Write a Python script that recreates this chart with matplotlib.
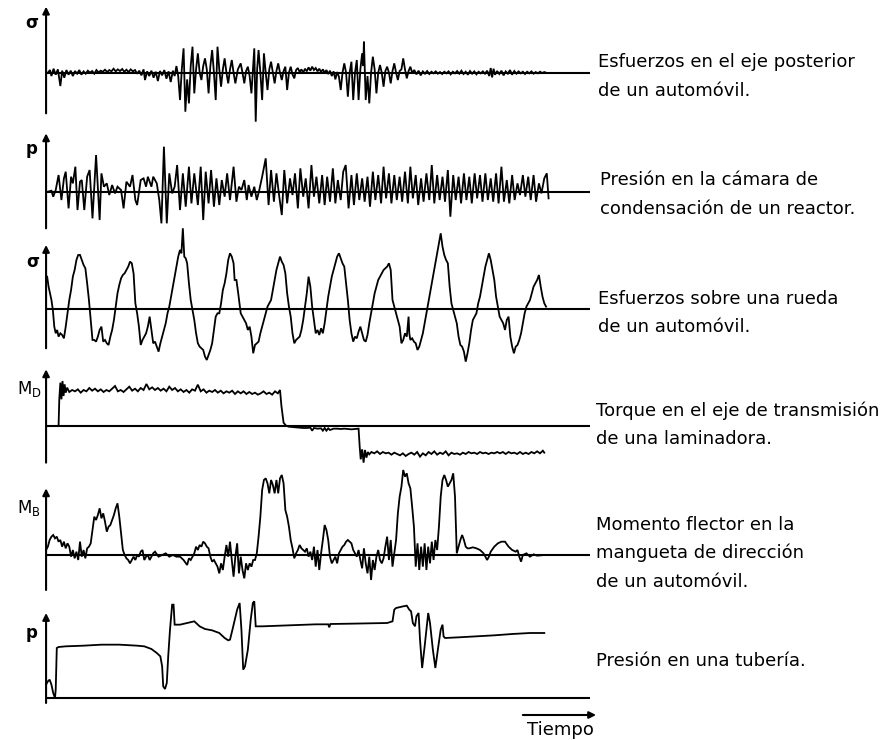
import matplotlib.pyplot as plt

plt.rcParams['font.family'] = 'DejaVu Sans'

W, H = 885, 740
T_AXIS, T_END = 45, 1568   # time of the vertical axis and of the end of each zero line

# (time, amplitude) samples of each record, amplitude measured from its zero line
eje_posterior = [
    (50, 0), (56, 8), (60, -10), (66, 12), (72, -6), (78, 10), (85, -40), (90, 6), (96, -15), (102, 8),
    (108, -6), (114, 6), (120, -10), (126, 5), (132, -3), (138, 8), (144, -6), (150, 4), (156, -3), (162, 6),
    (168, 0), (174, 5), (180, -3), (186, 8), (192, 1), (198, 6), (204, 3), (210, 9), (216, 2), (222, 8),
    (228, 4), (234, 12), (240, 4), (246, 10), (252, 5), (258, 11), (264, 3), (270, 9), (276, 2), (282, 10),
    (288, 4), (294, 8), (300, -3), (306, 6), (312, -8), (318, 10), (322, -22), (328, 4), (334, -10), (340, 6),
    (346, -15), (352, 3), (358, -25), (364, 5), (370, -8), (376, 8), (382, -18), (388, 4), (394, -28), (400, 6),
    (405, -10), (410, 20), (415, -10), (420, -82), (425, 10), (430, 73), (435, -117), (440, -20), (445, -92),
    (450, 20), (455, 78), (460, -62), (465, 10), (470, 58), (475, 0), (480, -22), (485, 20), (490, 43),
    (495, 10), (500, -62), (505, 20), (510, 68), (515, 0), (520, -82), (525, 78), (530, 10), (535, -42),
    (540, 10), (545, 43), (550, 0), (555, -32), (560, 10), (565, 38), (570, 0), (575, -32), (582, 10),
    (590, 28), (595, 0), (600, -32), (605, 5), (610, 18), (615, -10), (620, -62), (625, 20), (628, 73),
    (632, -147), (636, 10), (640, 68), (645, 0), (650, -82), (655, 58), (660, 0), (665, -52), (670, 10),
    (675, 33), (680, 0), (685, -32), (690, 5), (695, 28), (700, 0), (705, -22), (710, 5), (715, 18),
    (720, -52), (725, 0), (730, 18), (735, -5), (740, -17), (745, 8), (750, 14), (755, 2), (760, 10),
    (765, 0), (770, 12), (775, 4), (780, 16), (785, 6), (790, 18), (795, 8), (800, 14), (805, 4), (810, 12),
    (815, 2), (820, 10), (825, 0), (830, 8), (835, -4), (840, 6), (845, -10), (850, 4), (855, -20), (860, 2),
    (865, -12), (870, -52), (875, 0), (880, 28), (885, 0), (890, -72), (895, 0), (900, 33), (905, -82),
    (910, 0), (915, 38), (920, -82), (925, 10), (930, 58), (933, 20), (935, 93), (940, -82), (945, -10),
    (950, -92), (955, 0), (960, 48), (965, 10), (970, -62), (975, 0), (980, 23), (985, 0), (990, -42),
    (995, 5), (1000, 18), (1005, 0), (1010, -32), (1015, 5), (1020, 28), (1025, 0), (1030, -22), (1035, 5),
    (1040, 10), (1045, 43), (1050, 10), (1055, -17), (1060, 5), (1065, 18), (1070, 0), (1076, 8), (1082, -5),
    (1088, 6), (1094, -8), (1100, 4), (1106, -3), (1112, 5), (1118, -4), (1124, 3), (1130, -2), (1136, 4),
    (1142, -3), (1148, 2), (1154, -4), (1160, 3), (1166, -2), (1172, 4), (1178, -5), (1184, 3), (1190, -2),
    (1196, 5), (1202, -3), (1208, 6), (1214, -4), (1220, 3), (1226, -6), (1232, 5), (1238, -3), (1244, 4),
    (1250, -5), (1256, 3), (1262, -2), (1268, 4), (1274, -3), (1280, 6), (1286, -10), (1290, 14), (1294, -14),
    (1298, 12), (1302, -6), (1308, 5), (1314, -4), (1320, 6), (1326, -8), (1332, 4), (1338, -3), (1344, 8),
    (1350, -6), (1356, 5), (1362, -3), (1368, 4), (1374, -2), (1380, 3), (1386, -4), (1392, 3), (1398, -2),
    (1404, 4), (1410, -3), (1416, 2), (1422, -2), (1428, 3), (1434, -1), (1440, 2), (1445, 0),
]

camara_reactor = [
    (50, 0), (60, 3), (65, -15), (72, 5), (80, 50), (88, -25), (95, 40), (100, 60), (108, -50), (115, 45),
    (120, 25), (127, 75), (133, -55), (140, 30), (145, 35), (152, -55), (160, 45), (167, 65), (175, -80),
    (185, 110), (195, -85), (200, 55), (207, 15), (215, 25), (222, -10), (230, 20), (238, -5), (245, 15),
    (255, 5), (262, -50), (270, 30), (280, 15), (287, 50), (295, -25), (300, -40), (310, 35), (318, 40),
    (325, 15), (330, 45), (340, 15), (345, 45), (355, 25), (362, -25), (368, -95), (375, 135), (383, -95),
    (390, 55), (398, -5), (405, 15), (412, 80), (420, -55), (428, 55), (436, -45), (445, 75), (452, -35),
    (460, 55), (470, -40), (478, 75), (485, -85), (492, 60), (500, -35), (507, 65), (515, -45), (522, 40),
    (530, -40), (537, 35), (545, -15), (552, 55), (560, -25), (570, 75), (578, -30), (585, 15), (592, 5),
    (600, 35), (607, -25), (612, 20), (620, -15), (628, 15), (635, -25), (642, 5), (650, 45), (660, 100),
    (668, -40), (675, 65), (683, -30), (690, 55), (698, -15), (705, -70), (712, 65), (720, -35), (728, 40),
    (735, -10), (742, 55), (750, -50), (757, 70), (765, -15), (772, 40), (780, -50), (788, 80), (795, -15),
    (802, 45), (810, -35), (818, 50), (825, -40), (832, 45), (840, -30), (848, 70), (855, -35), (862, 35),
    (870, -25), (877, 60), (884, 80), (892, -50), (900, 50), (907, -40), (915, 55), (922, -25), (930, 40),
    (937, -30), (945, 45), (952, -45), (960, 60), (967, -25), (975, 50), (983, -35), (990, 75), (997, -20),
    (1005, 55), (1012, -35), (1020, 50), (1027, -25), (1035, 45), (1042, -30), (1050, 60), (1058, -35),
    (1065, 75), (1072, -20), (1080, 50), (1087, -40), (1095, 40), (1102, -30), (1110, 55), (1118, -25),
    (1125, 80), (1132, -35), (1140, 50), (1147, -25), (1155, 45), (1162, -30), (1170, 65), (1177, -75),
    (1185, 50), (1192, -25), (1200, 45), (1207, -35), (1215, 55), (1222, -25), (1230, 45), (1237, -35),
    (1245, 55), (1252, -20), (1260, 50), (1267, -30), (1275, 55), (1282, -25), (1290, 40), (1297, -30),
    (1305, 55), (1312, -35), (1320, 75), (1327, -30), (1335, 35), (1342, -35), (1350, 50), (1357, -25),
    (1365, 25), (1372, -10), (1380, 50), (1387, -15), (1395, 45), (1402, -25), (1410, 50), (1417, -30),
    (1425, 25), (1432, -5), (1440, 40), (1447, 55), (1452, -20),
]

rueda = [
    (45, 98), (48, 98), (52, 68), (56, 48), (60, 28), (64, -2), (68, -52), (72, -72), (76, -62), (80, -82),
    (85, -72), (90, -77), (95, -87), (100, -52), (105, -12), (110, 28), (115, 58), (120, 98), (125, 118),
    (130, 148), (135, 163), (140, 163), (145, 148), (150, 133), (155, 123), (160, 78), (165, 28), (170, -32),
    (175, -92), (180, -92), (185, -97), (190, -82), (195, -62), (200, -52), (205, -97), (210, -92), (215, -102),
    (220, -107), (225, -82), (230, -62), (235, -32), (240, 8), (245, 48), (250, 73), (255, 93), (260, 103),
    (265, 108), (270, 118), (275, 128), (280, 143), (285, 138), (290, 108), (295, 18), (300, -12), (305, -52),
    (310, -107), (315, -92), (320, -82), (325, -72), (330, -52), (335, -22), (340, -62), (345, -102),
    (350, -97), (355, -112), (360, -127), (365, -102), (370, -82), (375, -62), (380, -42), (385, -12), (390, 8),
    (395, 38), (400, 68), (405, 98), (410, 128), (415, 158), (420, 178), (424, 168), (428, 243), (432, 158),
    (436, 153), (440, 138), (445, 78), (450, 28), (455, -2), (460, -32), (465, -72), (470, -102), (475, -112),
    (480, -117), (485, -122), (490, -142), (495, -152), (500, -137), (505, -122), (510, -102), (515, -62),
    (520, -22), (525, -12), (530, -12), (535, 18), (540, 58), (545, 78), (550, 108), (555, 148), (560, 168),
    (565, 158), (570, 138), (573, 88), (578, 88), (583, 48), (590, -12), (595, -22), (600, -32), (605, -42),
    (610, -62), (615, -52), (620, -82), (625, -132), (630, -107), (635, -102), (640, -97), (645, -72),
    (650, -52), (655, -32), (660, -12), (665, 8), (670, 18), (675, 28), (680, 58), (685, 88), (690, 118),
    (695, 138), (700, 158), (705, 143), (710, 133), (715, 108), (720, 48), (725, 8), (730, -22), (735, -72),
    (740, -102), (745, -92), (750, -87), (755, -82), (760, -62), (765, -32), (770, 8), (775, 48), (780, 98),
    (785, 68), (790, 8), (795, -32), (800, -72), (805, -62), (810, -77), (815, -57), (820, -72), (825, -42),
    (830, -2), (835, 38), (840, 68), (845, 98), (850, 118), (855, 138), (860, 158), (865, 168), (870, 153),
    (875, 138), (880, 128), (885, 78), (890, 28), (895, -32), (900, -72), (905, -97), (910, -82), (915, -87),
    (920, -67), (925, -52), (930, -72), (935, -92), (940, -97), (945, -77), (950, -42), (955, -12), (960, 18),
    (965, 48), (970, 68), (975, 88), (980, 98), (985, 108), (990, 118), (1000, 128), (1005, 138), (1010, 118),
    (1015, 28), (1020, 8), (1025, -12), (1030, -32), (1035, -52), (1040, -102), (1045, -92), (1050, -72),
    (1055, -82), (1060, -22), (1062, -72), (1065, -92), (1070, -87), (1075, -97), (1080, -102), (1085, -122),
    (1090, -112), (1095, -92), (1100, -72), (1105, -42), (1110, -12), (1115, 18), (1120, 48), (1125, 78),
    (1130, 108), (1135, 138), (1140, 168), (1145, 198), (1150, 228), (1155, 188), (1160, 163), (1165, 148),
    (1170, 138), (1175, 68), (1180, 18), (1185, -2), (1190, -22), (1195, -42), (1200, -82), (1205, -107),
    (1210, -112), (1215, -127), (1220, -157), (1225, -132), (1230, -102), (1235, -62), (1240, -32),
    (1245, -22), (1250, -12), (1255, 18), (1260, 38), (1265, 68), (1270, 98), (1275, 128), (1280, 148),
    (1285, 168), (1290, 148), (1295, 118), (1300, 88), (1305, 38), (1310, 8), (1315, -22), (1320, -32),
    (1325, -42), (1330, -62), (1335, -32), (1340, -22), (1345, -82), (1350, -112), (1355, -132), (1360, -112),
    (1365, -107), (1370, -92), (1375, -72), (1380, -42), (1385, -12), (1390, 8), (1395, 18), (1400, 28),
    (1405, 48), (1410, 68), (1415, 78), (1420, 88), (1425, 103), (1430, 68), (1435, 38), (1440, 18), (1445, 8),
]

laminadora = [
    (80, 0), (82, 80), (85, 130), (88, 80), (91, 135), (94, 90), (97, 125), (100, 100), (104, 115), (110, 102),
    (118, 108), (126, 104), (134, 110), (142, 100), (150, 108), (158, 104), (166, 114), (174, 106), (182, 112),
    (190, 104), (198, 110), (206, 102), (214, 108), (222, 104), (230, 112), (238, 120), (246, 104), (254, 108),
    (262, 102), (270, 110), (278, 118), (286, 106), (294, 112), (302, 104), (310, 114), (318, 108), (326, 126),
    (334, 110), (342, 116), (350, 108), (358, 114), (366, 106), (374, 112), (382, 104), (390, 118), (398, 108),
    (406, 114), (414, 104), (422, 110), (430, 102), (438, 108), (446, 100), (454, 110), (462, 106), (470, 124),
    (478, 104), (486, 110), (494, 100), (502, 106), (510, 102), (518, 108), (526, 100), (534, 106), (542, 98),
    (550, 104), (558, 100), (566, 106), (574, 96), (582, 104), (590, 98), (598, 104), (606, 96), (614, 102),
    (622, 96), (630, 100), (638, 94), (646, 98), (654, 104), (662, 96), (670, 100), (678, 94), (686, 104),
    (694, 98), (700, 108), (704, 60), (710, 10), (716, 2), (724, -2), (735, -3), (745, -4), (755, -5),
    (765, -6), (775, -6), (785, -5), (790, -14), (795, -6), (805, -8), (815, -7), (820, -14), (825, -6),
    (830, -14), (835, -7), (840, -12), (850, -8), (860, -8), (870, -9), (880, -8), (890, -9), (900, -10),
    (910, -9), (920, -8), (923, -60), (926, -100), (930, -70), (934, -110), (938, -72), (942, -95), (946, -78),
    (950, -85), (956, -78), (964, -82), (972, -76), (980, -84), (988, -78), (996, -82), (1004, -80),
    (1012, -86), (1020, -80), (1028, -84), (1036, -88), (1044, -82), (1052, -90), (1060, -84), (1068, -80),
    (1076, -86), (1084, -78), (1092, -92), (1100, -82), (1108, -88), (1116, -78), (1124, -84), (1132, -76),
    (1140, -86), (1148, -80), (1156, -84), (1164, -76), (1172, -88), (1180, -80), (1188, -84), (1196, -82),
    (1204, -86), (1212, -80), (1220, -84), (1228, -78), (1236, -82), (1244, -80), (1252, -84), (1260, -78),
    (1268, -82), (1276, -80), (1284, -84), (1292, -80), (1300, -82), (1308, -78), (1316, -82), (1324, -78),
    (1332, -84), (1340, -78), (1348, -82), (1356, -80), (1364, -84), (1372, -78), (1380, -84), (1388, -80),
    (1396, -84), (1404, -78), (1412, -82), (1420, -76), (1428, -82), (1436, -74), (1440, -80),
]

mangueta = [
    (45, 15), (50, 25), (55, 45), (60, 55), (65, 60), (70, 50), (75, 55), (80, 40), (85, 45), (90, 25),
    (95, 40), (100, 20), (105, 35), (110, 25), (115, -5), (120, 15), (125, -10), (130, 10), (135, -15),
    (140, 40), (145, -5), (150, 15), (155, -10), (160, 20), (165, 25), (170, 35), (175, 75), (180, 115),
    (185, 105), (190, 120), (195, 140), (200, 110), (205, 125), (210, 100), (215, 70), (220, 85), (225, 90),
    (230, 105), (235, 120), (240, 140), (245, 155), (250, 115), (255, 65), (260, 15), (265, 0), (270, -10),
    (275, -15), (280, -25), (285, -15), (290, -5), (295, -15), (300, 0), (305, -5), (310, 10), (315, 15),
    (320, -15), (325, -5), (330, 0), (335, -15), (340, -5), (345, 5), (350, 10), (360, -5), (370, 0),
    (380, 5), (390, -5), (400, 0), (410, -5), (420, -5), (430, -15), (440, -30), (445, -10), (450, -15),
    (455, -5), (460, 5), (465, 25), (470, 15), (475, 30), (480, 25), (485, 40), (490, 35), (495, 25),
    (500, 20), (505, -5), (510, -20), (515, -15), (520, -25), (525, -35), (530, -55), (535, -25), (540, -45),
    (545, -5), (550, 30), (555, -5), (560, 40), (565, -15), (570, -65), (575, -5), (580, 35), (585, -55),
    (590, -5), (595, -45), (600, -70), (605, -25), (610, -45), (615, -25), (620, -35), (625, -15), (630, -15),
    (635, 5), (640, 55), (645, 115), (650, 195), (655, 225), (660, 230), (665, 215), (670, 185), (675, 225),
    (680, 210), (685, 185), (690, 225), (695, 185), (700, 230), (705, 240), (710, 215), (715, 135), (720, 115),
    (725, 85), (730, 45), (735, 20), (740, -10), (745, 5), (750, 15), (755, 30), (760, 20), (765, 15),
    (770, 10), (775, 20), (780, -5), (785, 10), (790, -15), (795, 25), (800, -35), (805, 15), (810, -45),
    (815, 5), (820, 45), (825, 90), (830, 75), (835, 45), (840, -5), (845, -25), (850, -15), (855, -5),
    (860, -25), (865, 5), (870, 15), (875, 25), (880, 30), (885, 40), (890, 45), (895, 40), (900, 35),
    (905, 15), (910, 5), (915, -5), (920, 15), (925, -15), (930, -40), (935, 20), (940, -25), (945, -55),
    (950, -5), (955, -75), (960, -15), (965, -45), (970, -5), (975, 15), (980, -15), (985, -25), (990, -10),
    (995, 25), (1000, 55), (1005, -15), (1010, 45), (1015, -35), (1020, 5), (1025, 45), (1030, 125),
    (1035, 175), (1040, 205), (1045, 255), (1050, 235), (1055, 245), (1060, 215), (1065, 200), (1070, 145),
    (1075, 85), (1080, -35), (1085, 35), (1090, -45), (1095, 25), (1100, -35), (1105, 35), (1110, -45),
    (1115, 25), (1120, -25), (1125, 40), (1130, -15), (1135, 45), (1140, 15), (1145, 85), (1150, 175),
    (1155, 225), (1160, 240), (1165, 225), (1170, 205), (1175, 215), (1180, 225), (1185, 245), (1190, 175),
    (1195, 5), (1200, 25), (1205, 45), (1210, 60), (1215, 45), (1220, 25), (1225, 20), (1230, 20), (1240, 23),
    (1250, 20), (1260, 15), (1270, 5), (1280, -15), (1285, -5), (1290, 10), (1300, 25), (1310, 35),
    (1320, 40), (1330, 40), (1340, 25), (1350, 15), (1360, 10), (1365, 15), (1370, -5), (1375, -20),
    (1380, 0), (1390, 5), (1400, -5), (1410, 2), (1420, -2), (1440, 0),
]

tuberia = [
    (45, 40), (50, 50), (55, 55), (60, 40), (65, 15), (70, 0), (72, 25), (75, 150), (80, 153), (100, 155),
    (150, 157), (200, 160), (250, 160), (300, 157), (320, 155), (340, 147), (355, 135), (365, 125), (370, 95),
    (373, 35), (378, 27), (383, 45), (387, 125), (392, 205), (398, 280), (402, 280), (405, 220), (420, 220),
    (440, 225), (460, 230), (465, 225), (475, 215), (490, 207), (510, 203), (530, 195), (545, 180), (555, 173),
    (560, 175), (568, 210), (580, 265), (587, 285), (592, 205), (597, 85), (602, 95), (610, 145), (618, 235),
    (624, 285), (628, 290), (632, 215), (650, 215), (700, 217), (750, 219), (800, 221), (835, 221), (838, 212),
    (841, 222), (900, 223), (950, 224), (1000, 225), (1015, 230), (1020, 265), (1025, 270), (1045, 275),
    (1055, 277), (1062, 265), (1067, 260), (1072, 225), (1078, 215), (1082, 245), (1088, 255), (1092, 175),
    (1098, 90), (1105, 155), (1115, 255), (1120, 225), (1128, 145), (1135, 90), (1142, 145), (1150, 205),
    (1155, 220), (1158, 185), (1162, 180), (1200, 182), (1250, 185), (1300, 188), (1350, 192), (1400, 195),
    (1440, 195),
]

symbols = ['σ', 'p', 'σ', r'$\mathrm{M}_\mathrm{D}$', r'$\mathrm{M}_\mathrm{B}$', 'p']
captions = [
    ['Esfuerzos en el eje posterior', 'de un automóvil.'],
    ['Presión en la cámara de', 'condensación de un reactor.'],
    ['Esfuerzos sobre una rueda', 'de un automóvil.'],
    ['Torque en el eje de transmisión', 'de una laminadora.'],
    ['Momento flector en la', 'mangueta de dirección', 'de un automóvil.'],
    ['Presión en una tubería.'],
]

# per panel: zero line row, arrow tip / foot (amplitude units), symbol centre and caption baseline (pixels)
layout = [
    dict(base=72.7, tip=198, foot=-122, sym=(32, 23), cap=(598, 67)),
    dict(base=191.7, tip=175, foot=-110, sym=(32, 149), cap=(600, 185)),
    dict(base=309.3, tip=193, foot=-117, sym=(33, 262), cap=(598, 304)),
    dict(base=426.0, tip=170, foot=-110, sym=(29, 389), cap=(596, 416)),
    dict(base=555.0, tip=200, foot=-105, sym=(29, 508), cap=(596, 530)),
    dict(base=698.0, tip=255, foot=-15, sym=(32, 633), cap=(596, 666)),
]
records = [eje_posterior, camara_reactor, rueda, laminadora, mangueta, tuberia]

fig = plt.figure(figsize=(W / 100, H / 100), dpi=100)

for rec, lay, sym, cap in zip(records, layout, symbols, captions):
    ax = fig.add_axes([0, 0, 1, 1])
    ax.set_xlim(-30 * 2.8, (W - 30) * 2.8)
    ax.set_ylim((lay['base'] - H) * 3, lay['base'] * 3)
    ax.axis('off')
    t, a = zip(*rec)
    ax.plot(t, a, color='black', lw=1.3, solid_joinstyle='miter')
    ax.hlines(0, T_AXIS, T_END, color='black', lw=1.5)
    ax.annotate('', xy=(T_AXIS, lay['tip']), xytext=(T_AXIS, lay['foot']),
                arrowprops=dict(arrowstyle='-|>', color='black', lw=1.5,
                                mutation_scale=10, shrinkA=0, shrinkB=0))
    sx, sy = lay['sym']
    fig.text(sx / W, 1 - sy / H, sym, ha='center', va='center', fontsize=12, fontweight='bold')
    cx, cy = lay['cap']
    for i, line in enumerate(cap):
        fig.text(cx / W, 1 - (cy + 28.5 * i) / H, line, ha='left', va='baseline', fontsize=13)

# time arrow under the last record
ax.annotate('', xy=(1585, -51), xytext=(1380, -51),
            arrowprops=dict(arrowstyle='-|>', color='black', lw=1.5,
                            mutation_scale=10, shrinkA=0, shrinkB=0))
fig.text(527 / W, 1 - 735 / H, 'Tiempo', ha='left', va='baseline', fontsize=13)

fig.savefig('out.png', dpi=100, facecolor='white')
